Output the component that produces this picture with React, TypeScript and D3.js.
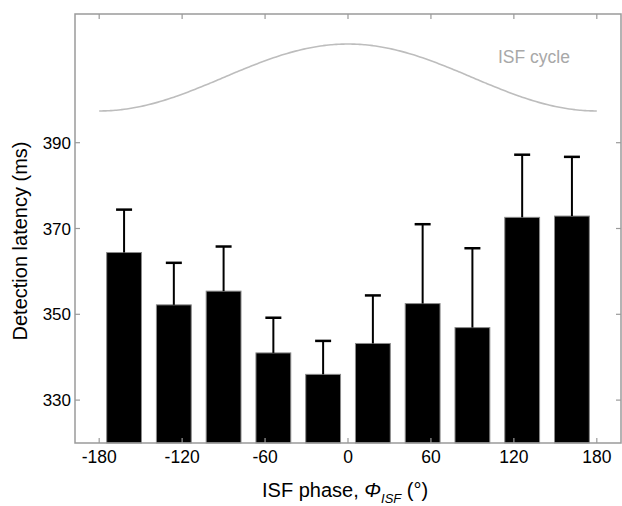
import React from "react";
import * as d3 from "d3";

const phases = [-162, -126, -90, -54, -18, 18, 54, 90, 126, 162];
const latency = [364.4, 352.2, 355.4, 341.0, 336.0, 343.2, 352.5, 346.9, 372.6, 372.9];
const sem = [10.0, 9.8, 10.4, 8.2, 7.8, 11.2, 18.5, 18.5, 14.6, 13.8];
const xTicks = [-180, -120, -60, 0, 60, 120, 180];
const yTicks = [330, 350, 370, 390];
const cycleMid = 405.2;
const cycleAmp = 7.8;
const cycleLabel = "ISF cycle";

const W = 622;
const H = 506;
const L = 75, R = 621, T = 14, B = 443;
const FONT = "'Liberation Sans', Arial, Helvetica, sans-serif";

export default function App() {
  const x = d3.scaleLinear().domain([-197.5, 197.5]).range([L, R]);
  const y = d3.scaleLinear().domain([320, 420]).range([B, T]);
  const barW = x(25.2) - x(0);
  const capW = 16;
  const frame = "#9a9a9a";
  const tickLen = 5;

  const cyclePts = d3.range(-180, 181, 2).map((p) => [p, cycleMid + cycleAmp * Math.cos((p * Math.PI) / 180)] as [number, number]);
  const line = d3.line<[number, number]>().x((d) => x(d[0])).y((d) => y(d[1])).curve(d3.curveMonotoneX);

  return (
    <svg width={W} height={H} style={{ position: "absolute", left: 0, top: 0, background: "#fff" }} fontFamily={FONT}>
      {phases.map((p, i) => (
        <rect key={"b" + i} x={x(p) - barW / 2} y={y(latency[i])} width={barW} height={y(320) - y(latency[i])} fill="#000" stroke="#8a8a8a" strokeWidth={1} />
      ))}
      {phases.map((p, i) => (
        <g key={"e" + i} stroke="#000" strokeWidth={2}>
          <line x1={x(p)} x2={x(p)} y1={y(latency[i])} y2={y(latency[i] + sem[i])} />
          <line x1={x(p) - capW / 2} x2={x(p) + capW / 2} y1={y(latency[i] + sem[i])} y2={y(latency[i] + sem[i])} strokeWidth={2.5} />
        </g>
      ))}
      <path d={line(cyclePts) || ""} fill="none" stroke="#bdbdbd" strokeWidth={1.6} />
      <text x={498} y={63} fontSize={17.5} fill="#a8a8a8">{cycleLabel}</text>
      <rect x={L} y={T} width={R - L} height={B - T} fill="none" stroke={frame} strokeWidth={1.5} />
      {xTicks.map((t) => (
        <g key={"xt" + t} stroke={frame} strokeWidth={1.2}>
          <line x1={x(t)} x2={x(t)} y1={B} y2={B - tickLen} />
          <line x1={x(t)} x2={x(t)} y1={T} y2={T + tickLen} />
        </g>
      ))}
      {yTicks.map((t) => (
        <g key={"yt" + t} stroke={frame} strokeWidth={1.2}>
          <line x1={L} x2={L + tickLen} y1={y(t)} y2={y(t)} />
          <line x1={R} x2={R - tickLen} y1={y(t)} y2={y(t)} />
        </g>
      ))}
      {xTicks.map((t) => (
        <text key={"xl" + t} x={x(t)} y={463} fontSize={17.5} textAnchor="middle" fill="#000">{t}</text>
      ))}
      {yTicks.map((t) => (
        <text key={"yl" + t} x={71} y={y(t) + 6} fontSize={17} textAnchor="end" fill="#000">{t}</text>
      ))}
      <text transform="translate(27,241) rotate(-90)" fontSize={20} textAnchor="middle" fill="#000">Detection latency (ms)</text>
      <text x={262} y={496.5} fontSize={20} fill="#000">
        ISF phase, <tspan fontStyle="italic">Φ</tspan>
        <tspan fontStyle="italic" fontSize={13} dy={6}>ISF</tspan>
        <tspan dy={-6}> (°)</tspan>
      </text>
    </svg>
  );
}
